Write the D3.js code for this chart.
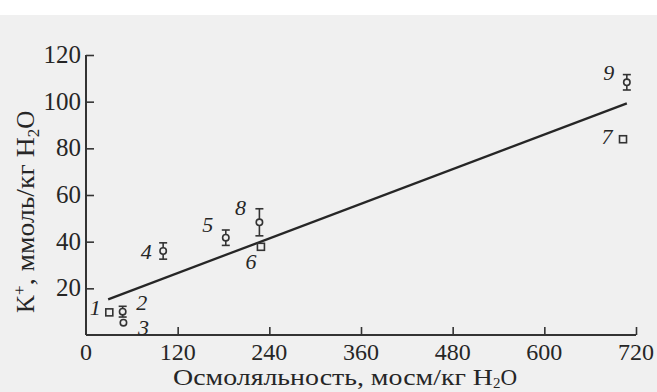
<!DOCTYPE html>
<html>
<head>
<meta charset="utf-8">
<script src="https://cdn.jsdelivr.net/npm/d3@7"></script>
<style>
  body { margin: 0; background: #fff; }
  svg { display: block; }
  text { font-family: "Liberation Serif", "DejaVu Serif", serif; fill: #262626; }
</style>
</head>
<body>
<svg id="chart" width="657" height="392"></svg>
<script>
// точки: номер, осмоляльность, K+, погрешность (0 = без усов)
const labels = ['1', '2', '3', '4', '5', '6', '8', '9', '7']
const osmo   = [30.5, 48, 49, 101, 183, 229, 227, 708, 703]
const kPlus  = [9.7, 10, 5.3, 36, 41.7, 37.8, 48.3, 108.3, 83.9]
const errs   = [0, 2.3, 0, 3.5, 3.3, 0, 5.8, 3.3, 0]
const shapes = ['square', 'circle', 'circle', 'circle', 'circle', 'square', 'circle', 'circle', 'square']
// регрессия
const lineX = [29, 708]
const lineY = [15.3, 99.3]
const xTicks = [0, 120, 240, 360, 480, 600, 720]
const yTicks = [20, 40, 60, 80, 100, 120]

// смещение подписи относительно точки
const labelDx = [-14, 19, 20, -17, -18, -10, -19, -18, -16]
const labelDy = [-4, -9, 5, 1, -13, 15, -14, -9, -2]

const svg = d3.select('#chart')
svg.append('rect').attr('width', 657).attr('height', 392).attr('fill', '#f0f0f0')
svg.append('rect').attr('width', 657).attr('height', 15).attr('fill', '#ffffff')

const x = d3.scaleLinear().domain([0, 720]).range([86, 636])
const y = d3.scaleLinear().domain([0, 120]).range([335, 55])

const xAxis = svg.append('g')
    .attr('transform', `translate(0,${y(0)})`)
    .call(d3.axisTop(x).tickValues(xTicks.slice(1)).tickSize(8).tickFormat(''))
const yAxis = svg.append('g')
    .attr('transform', `translate(${x(0)},0)`)
    .call(d3.axisRight(y).tickValues(yTicks).tickSize(8).tickFormat(''))
svg.selectAll('.tick line').attr('stroke', '#333').attr('stroke-width', 1.6)
svg.selectAll('.domain').remove()
xAxis.append('line').attr('x1', x(0)).attr('x2', x(720)).attr('stroke', '#333').attr('stroke-width', 2)
yAxis.append('line').attr('y1', y(0)).attr('y2', y(120)).attr('stroke', '#333').attr('stroke-width', 2)

// подписи делений
svg.selectAll('.xl').data(xTicks).enter().append('text')
    .attr('x', d => x(d)).attr('y', 360)
    .attr('text-anchor', 'middle').attr('font-size', 24)
    .text(d => d)
svg.selectAll('.yl').data(yTicks).enter().append('text')
    .attr('x', x(0) - 5).attr('y', d => y(d) + 8)
    .attr('text-anchor', 'end').attr('font-size', 25)
    .text(d => d)

// подписи осей
const xt = svg.append('text').attr('x', 173).attr('y', 385)
    .attr('font-size', 23)
xt.append('tspan').attr('textLength', 320).attr('lengthAdjust', 'spacingAndGlyphs')
    .text('Осмоляльность, мосм/кг H')
xt.append('tspan').attr('dy', 3).attr('font-size', 15).text('2')
xt.append('tspan').attr('dy', -3).text('O')

const yt = svg.append('text')
    .attr('transform', 'translate(34,313) rotate(-90)')
    .attr('font-size', 25)
yt.append('tspan').text('K')
yt.append('tspan').attr('dy', -9).attr('font-size', 17).text('+')
yt.append('tspan').attr('dy', 9).attr('textLength', 148).attr('lengthAdjust', 'spacingAndGlyphs')
    .text(', ммоль/кг H')
yt.append('tspan').attr('dy', 5).attr('font-size', 17).text('2')
yt.append('tspan').attr('dy', -5).text('O')

// линия
svg.append('line')
    .attr('x1', x(lineX[0])).attr('y1', y(lineY[0]))
    .attr('x2', x(lineX[1])).attr('y2', y(lineY[1]))
    .attr('stroke', '#262626').attr('stroke-width', 2.3)

// точки
const pts = d3.range(labels.length)
const g = svg.selectAll('.pt').data(pts).enter().append('g')
g.filter(i => errs[i] > 0).each(function (i) {
    const s = d3.select(this)
    const cx = x(osmo[i])
    s.append('line').attr('x1', cx).attr('x2', cx)
        .attr('y1', y(kPlus[i] - errs[i])).attr('y2', y(kPlus[i] + errs[i]))
    s.append('line').attr('x1', cx - 4).attr('x2', cx + 4)
        .attr('y1', y(kPlus[i] - errs[i])).attr('y2', y(kPlus[i] - errs[i]))
    s.append('line').attr('x1', cx - 4).attr('x2', cx + 4)
        .attr('y1', y(kPlus[i] + errs[i])).attr('y2', y(kPlus[i] + errs[i]))
    s.selectAll('line').attr('stroke', '#333').attr('stroke-width', 1.6)
})
g.filter(i => shapes[i] === 'circle').append('circle')
    .attr('cx', i => x(osmo[i])).attr('cy', i => y(kPlus[i])).attr('r', 3.2)
    .attr('fill', '#f0f0f0').attr('stroke', '#333').attr('stroke-width', 1.6)
g.filter(i => shapes[i] === 'square').append('rect')
    .attr('x', i => x(osmo[i]) - 3.5).attr('y', i => y(kPlus[i]) - 3.5)
    .attr('width', 7).attr('height', 7)
    .attr('fill', '#f0f0f0').attr('stroke', '#333').attr('stroke-width', 1.6)
g.append('text')
    .attr('x', i => x(osmo[i]) + labelDx[i]).attr('y', i => y(kPlus[i]) + labelDy[i] + 7)
    .attr('text-anchor', 'middle').attr('font-size', 22).attr('font-style', 'italic')
    .text(i => labels[i])
</script>
</body>
</html>
